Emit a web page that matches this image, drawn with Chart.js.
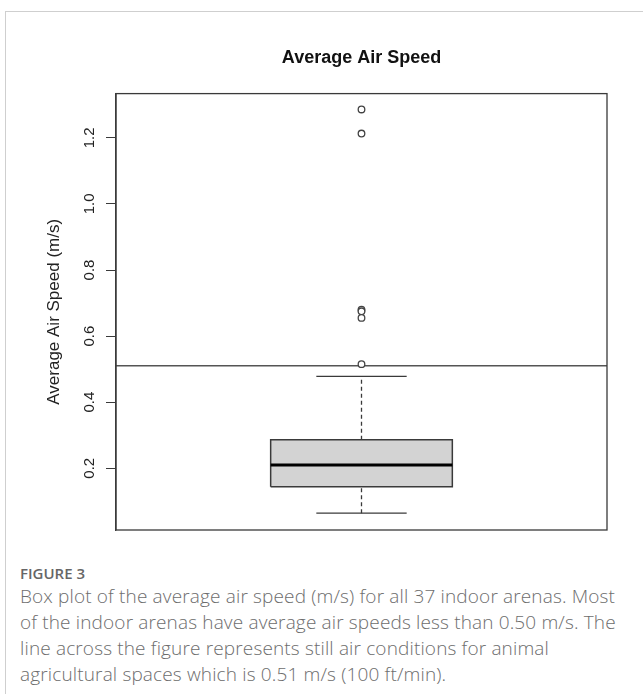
<!DOCTYPE html>
<html>
<head>
  <title>Average Air Speed</title>
  <script src="https://cdn.jsdelivr.net/npm/chart.js@4"></script>
  <style>
    body { margin: 0; background: #fff; width: 643px; height: 694px; overflow: hidden; position: relative; }
    #frame { position: absolute; left: 5px; top: 11px; right: 0; bottom: 0;
             border-left: 1px solid #cfcfcf; border-top: 1px solid #cfcfcf; }
    #wrap { position: absolute; left: 0; top: 0; width: 643px; height: 545px; }
    #caption { position: absolute; left: 20px; top: 563px; color: #6d6d6d;
               font-family: "Open Sans", Lato, sans-serif; white-space: nowrap; }
    #caption .fig { font-size: 15px; font-weight: 600; color: #666; line-height: 20px; }
    #caption .txt { font-size: 19px; font-weight: 300; line-height: 26px; letter-spacing: 0.15px; }
  </style>
</head>
<body>
  <div id="frame"></div>
  <div id="wrap"><canvas id="chart" width="643" height="545"></canvas></div>
  <div id="caption">
    <div class="fig">FIGURE 3</div>
    <div class="txt">Box plot of the average air speed (m/s) for all 37 indoor arenas. Most<br>of the indoor arenas have average air speeds less than 0.50 m/s. The<br>line across the figure represents still air conditions for animal<br>agricultural spaces which is 0.51 m/s (100 ft/min).</div>
  </div>
  <script>
    // Valeurs (m/s)
    const categories = ['Indoor arenas'];
    const q1 = [0.144];
    const median = [0.21];
    const q3 = [0.286];
    const whiskerLow = [0.064];
    const whiskerHigh = [0.478];
    const outliers = [[1.286, 1.213, 0.68, 0.675, 0.655, 0.515]];
    const stillAir = 0.51;
    const yTicks = [0.2, 0.4, 0.6, 0.8, 1.0, 1.2];

    // largeur de la boîte et des moustaches (unités de l'axe x)
    const BOX_HALF = 0.185;
    const CAP_HALF = 0.092;
    const ink = '#3a3a3a';
    const font = '"Liberation Sans", Arial, sans-serif';

    const datasets = [];
    categories.forEach((name, i) => {
      const c = i + 1;
      // boîte q1-q3
      datasets.push({
        label: name + ' box',
        data: [
          {x: c - BOX_HALF, y: q1[i]}, {x: c - BOX_HALF, y: q3[i]},
          {x: c + BOX_HALF, y: q3[i]}, {x: c + BOX_HALF, y: q1[i]},
          {x: c - BOX_HALF, y: q1[i]}
        ],
        showLine: true, fill: 'shape', backgroundColor: '#d3d3d3',
        borderColor: ink, borderWidth: 1.5, pointRadius: 0, order: 5
      });
      // médiane
      datasets.push({
        label: name + ' median',
        data: [{x: c - BOX_HALF, y: median[i]}, {x: c + BOX_HALF, y: median[i]}],
        showLine: true, borderColor: '#000', borderWidth: 3, pointRadius: 0, order: 2
      });
      // moustaches en pointillé
      datasets.push({
        label: name + ' upper whisker',
        data: [{x: c, y: q3[i]}, {x: c, y: whiskerHigh[i]}],
        showLine: true, borderColor: ink, borderWidth: 1.3, borderDash: [4, 3], pointRadius: 0, order: 4
      });
      datasets.push({
        label: name + ' lower whisker',
        data: [{x: c, y: whiskerLow[i]}, {x: c, y: q1[i]}],
        showLine: true, borderColor: ink, borderWidth: 1.3, borderDash: [4, 3], pointRadius: 0, order: 4
      });
      // traits de fin
      [whiskerHigh[i], whiskerLow[i]].forEach(v => {
        datasets.push({
          label: name + ' cap',
          data: [{x: c - CAP_HALF, y: v}, {x: c + CAP_HALF, y: v}],
          showLine: true, borderColor: ink, borderWidth: 1.3, pointRadius: 0, order: 4
        });
      });
      // valeurs extrêmes
      datasets.push({
        label: name + ' outliers',
        data: outliers[i].map(v => ({x: c, y: v})),
        showLine: false, pointStyle: 'circle', pointRadius: 3.3,
        pointBackgroundColor: '#fff', pointBorderColor: '#444', pointBorderWidth: 1.3, order: 1
      });
    });
    // ligne air calme
    datasets.push({
      label: 'still air',
      data: [{x: 0.5, y: stillAir}, {x: categories.length + 0.5, y: stillAir}],
      showLine: true, borderColor: '#555', borderWidth: 1.5, pointRadius: 0, order: 3
    });

    // cadre autour de la zone de tracé
    const framePlugin = {
      id: 'frame',
      afterDraw(chart) {
        const a = chart.chartArea, ctx = chart.ctx;
        ctx.save();
        ctx.strokeStyle = ink;
        ctx.lineWidth = 1.3;
        ctx.strokeRect(a.left, a.top, a.right - a.left, a.bottom - a.top);
        ctx.restore();
      }
    };

    const ctx = document.getElementById('chart').getContext('2d');
    new Chart(ctx, {
      type: 'scatter',
      data: { datasets },
      plugins: [framePlugin],
      options: {
        responsive: false,
        animation: false,
        events: [],
        layout: { padding: { top: 0, left: 38, right: 36, bottom: 15 } },
        plugins: {
          legend: { display: false },
          tooltip: { enabled: false }
        },
        scales: {
          // axe x caché, sert à centrer le titre sur la zone de tracé
          x: {
            type: 'linear', min: 0.5, max: categories.length + 0.5, position: 'top',
            grid: { display: false, drawTicks: false },
            border: { display: false },
            ticks: { display: false },
            title: {
              display: true,
              text: 'Average Air Speed',
              color: '#111',
              font: { family: font, size: 18, weight: 'bold' },
              padding: { top: 47, bottom: 25 }
            }
          },
          y: {
            type: 'linear', min: 0.013, max: 1.334,
            afterBuildTicks: s => { s.ticks = yTicks.map(v => ({value: v})); },
            afterFit: s => { s.width = 78; },
            grid: { drawOnChartArea: false, tickLength: 10, color: ink },
            border: { display: true, color: ink, width: 1.3 },
            ticks: {
              minRotation: 90, maxRotation: 90, crossAlign: 'center', padding: 6,
              color: '#222',
              font: { family: font, size: 15 },
              callback: v => v.toFixed(1)
            },
            title: {
              display: true,
              text: 'Average Air Speed (m/s)',
              color: '#222',
              font: { family: font, size: 17 },
              padding: { top: 6, bottom: 0 }
            }
          }
        }
      }
    });
  </script>
</body>
</html>
